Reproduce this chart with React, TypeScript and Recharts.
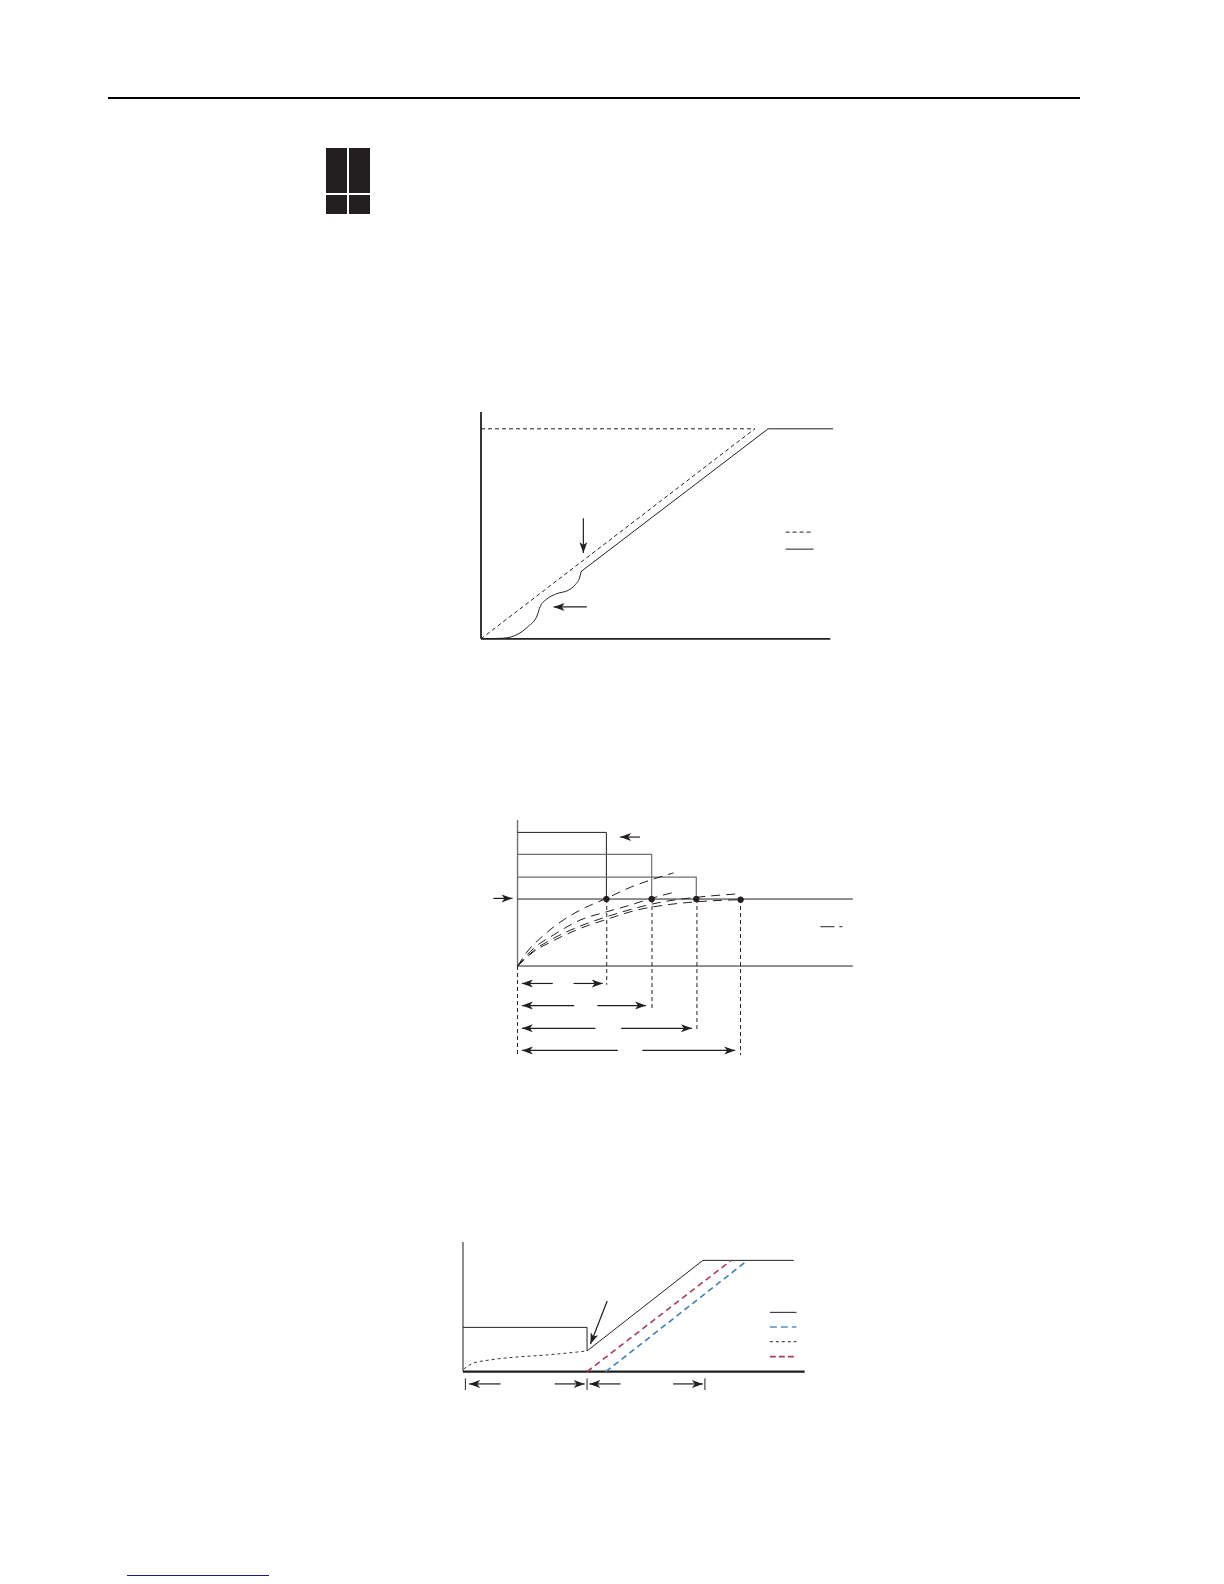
import React from "react";
import { LineChart, Line, XAxis, YAxis, ReferenceLine } from "recharts";

const INK = "#231f20";
const GREY = "#6f6f6f";
const RED = "#a83a62";
const BLUE = "#3f7fb5";
const BLUE_KEY = "#5b92c4";

type Pt = { x: number; y: number };

// ---- top chart: ramp
const rampTarget: Pt[] = [{ x: 0, y: 0 }, { x: 78.4, y: 100 }];
const rampTargetTop: Pt[] = [{ x: 0, y: 100 }, { x: 78.4, y: 100 }];
const rampActualCurve: Pt[] = [
  { x: 0, y: 0 }, { x: 6.5, y: 0.3 }, { x: 10.3, y: 2 }, { x: 13.6, y: 6 }, { x: 16, y: 10.8 },
  { x: 17, y: 15.5 }, { x: 18.9, y: 19 }, { x: 21.7, y: 21.5 }, { x: 25, y: 23.1 }, { x: 27, y: 25.8 },
  { x: 28.2, y: 29 }, { x: 28.7, y: 32.1 },
];
const rampActualLine: Pt[] = [{ x: 28.7, y: 32.1 }, { x: 82.2, y: 100 }, { x: 100.8, y: 100 }];
const rampArrowDown: Pt[] = [{ x: 29.3, y: 57.4 }, { x: 29.3, y: 40.8 }];
const rampArrowLeft: Pt[] = [{ x: 30.3, y: 15.2 }, { x: 20.8, y: 15.2 }];
const rampKeyDash: Pt[] = [{ x: 87.2, y: 50.8 }, { x: 95.2, y: 50.8 }];
const rampKeySolid: Pt[] = [{ x: 87.2, y: 42.7 }, { x: 95.2, y: 42.7 }];

// ---- middle chart: steps
const stepA: Pt[] = [{ x: 0, y: 199.5 }, { x: 26.5, y: 199.5 }, { x: 26.5, y: 100 }];
const stepB: Pt[] = [{ x: 0, y: 166.7 }, { x: 40, y: 166.7 }, { x: 40, y: 100 }];
const stepC: Pt[] = [{ x: 0, y: 132.8 }, { x: 53.3, y: 132.8 }, { x: 53.3, y: 100 }];
const curveA: Pt[] = [
  { x: 0, y: 0 }, { x: 3.3, y: 23.9 }, { x: 7.3, y: 43.8 }, { x: 12.2, y: 63.7 }, { x: 18.7, y: 83.6 },
  { x: 26.5, y: 101 }, { x: 33.6, y: 117.4 }, { x: 40, y: 129 }, { x: 46.5, y: 139 },
];
const curveB: Pt[] = [
  { x: 0, y: 0 }, { x: 4.8, y: 26.4 }, { x: 10.7, y: 46.3 }, { x: 18.7, y: 68.7 }, { x: 26.6, y: 81 },
  { x: 33.6, y: 91 }, { x: 39.9, y: 101 }, { x: 46.5, y: 110 },
];
const curveC: Pt[] = [
  { x: 0, y: 0 }, { x: 4.8, y: 22.9 }, { x: 10.7, y: 41.3 }, { x: 18.7, y: 59.7 }, { x: 26.6, y: 73.6 },
  { x: 35.6, y: 87 }, { x: 43.5, y: 96 }, { x: 53.2, y: 102.5 }, { x: 66.5, y: 108 },
];
const curveD: Pt[] = [
  { x: 0, y: 0 }, { x: 4.8, y: 21.4 }, { x: 10.7, y: 37.8 }, { x: 18.7, y: 56.2 }, { x: 26.6, y: 69.7 },
  { x: 35.6, y: 83.6 }, { x: 45.5, y: 92 }, { x: 53.5, y: 96 }, { x: 66.5, y: 99 },
];
const setPoint: Pt[] = [{ x: 0, y: 100 }, { x: 100, y: 100 }];
const stepBase: Pt[] = [{ x: 0, y: 0 }, { x: 100, y: 0 }];
const reached: Pt[] = [{ x: 26.5, y: 100 }, { x: 40, y: 100 }, { x: 53.3, y: 100 }, { x: 66.5, y: 99 }];
const dropLines: Pt[][] = [
  [{ x: 0, y: 0 }, { x: 0, y: -133 }],
  [{ x: 26.6, y: 100 }, { x: 26.6, y: -28 }],
  [{ x: 40.1, y: 100 }, { x: 40.1, y: -67 }],
  [{ x: 53.5, y: 100 }, { x: 53.5, y: -98 }],
  [{ x: 66.5, y: 100 }, { x: 66.5, y: -133 }],
];
const stepArrows: Pt[][] = [
  [{ x: -7.2, y: 101 }, { x: -1.5, y: 101 }],
  [{ x: 36.5, y: 192.5 }, { x: 30.6, y: 192.5 }],
  [{ x: 10.5, y: -26 }, { x: 1.3, y: -26 }],
  [{ x: 16.7, y: -26 }, { x: 25.4, y: -26 }],
  [{ x: 16.9, y: -59 }, { x: 1.3, y: -59 }],
  [{ x: 23.8, y: -59 }, { x: 38.3, y: -59 }],
  [{ x: 23.2, y: -93 }, { x: 1.3, y: -93 }],
  [{ x: 30.9, y: -93 }, { x: 52, y: -93 }],
  [{ x: 29.9, y: -126 }, { x: 1.3, y: -126 }],
  [{ x: 37.2, y: -126 }, { x: 64.9, y: -126 }],
];
const stepKey: Pt[] = [{ x: 90.3, y: 58.7 }, { x: 97, y: 58.7 }];

// ---- bottom chart: hold then ramp
const holdSolid: Pt[] = [
  { x: 0, y: 39.8 }, { x: 36.3, y: 39.8 }, { x: 36.3, y: 18.6 }, { x: 70.2, y: 100 }, { x: 96.8, y: 100 },
];
const holdCurve: Pt[] = [
  { x: 0.2, y: 2.4 }, { x: 2.9, y: 7.5 }, { x: 7.8, y: 10.5 }, { x: 14.6, y: 12.9 }, { x: 24.4, y: 15 }, { x: 36.3, y: 18.6 },
];
const holdRed: Pt[] = [{ x: 36.3, y: 0 }, { x: 78.5, y: 100 }];
const holdBlue: Pt[] = [{ x: 41.8, y: 0 }, { x: 82.4, y: 97.9 }];
const holdKeys: Pt[][] = [
  [{ x: 89.8, y: 53.3 }, { x: 97.6, y: 53.3 }],
  [{ x: 89.8, y: 40.1 }, { x: 97.6, y: 40.1 }],
  [{ x: 89.8, y: 26.9 }, { x: 97.6, y: 26.9 }],
  [{ x: 89.8, y: 13.5 }, { x: 97.6, y: 13.5 }],
];
const holdTicks: Pt[][] = [
  [{ x: 0.7, y: -6 }, { x: 0.7, y: -16.5 }],
  [{ x: 36.3, y: -6 }, { x: 36.3, y: -16.5 }],
  [{ x: 70.8, y: -6 }, { x: 70.8, y: -16.5 }],
];
const holdArrows: Pt[][] = [
  [{ x: 42.2, y: 63.5 }, { x: 37.3, y: 24.9 }],
  [{ x: 11, y: -11 }, { x: 1.8, y: -11 }],
  [{ x: 26.8, y: -11 }, { x: 35.6, y: -11 }],
  [{ x: 46.1, y: -11 }, { x: 37, y: -11 }],
  [{ x: 61.5, y: -11 }, { x: 70.2, y: -11 }],
];

// barbed head on the last point of a two point line
function arrowHead(props: any) {
  const { cx, cy, index, points } = props;
  if (index !== 1 || !points) return <g key={index} />;
  const a = (Math.atan2(cy - points[0].y, cx - points[0].x) * 180) / Math.PI;
  return (
    <path
      key={index}
      d="M0 0 L-11 -4 L-8 0 L-11 4 Z"
      fill={INK}
      transform={`translate(${cx} ${cy}) rotate(${a})`}
    />
  );
}

function plain(data: Pt[], key: string, color = INK, width = 1, dash?: string, curve: any = "linear") {
  return (
    <Line
      key={key}
      data={data}
      dataKey="y"
      type={curve}
      stroke={color}
      strokeWidth={width}
      strokeDasharray={dash}
      dot={false}
      activeDot={false}
      isAnimationActive={false}
    />
  );
}

function arrow(data: Pt[], key: string) {
  return (
    <Line
      key={key}
      data={data}
      dataKey="y"
      type="linear"
      stroke={INK}
      strokeWidth={1.2}
      dot={arrowHead}
      activeDot={false}
      isAnimationActive={false}
    />
  );
}

const M = { top: 10, right: 10, bottom: 10, left: 10 };

function Box({ left, top, width, height, children }: any) {
  return (
    <div style={{ position: "absolute", left: left - 10, top: top - 10 }}>
      <LineChart width={width + 20} height={height + 20} margin={M}>
        {children}
      </LineChart>
    </div>
  );
}

export default function App() {
  return (
    <div style={{ position: "absolute", left: 0, top: 0, width: 1224, height: 1584, background: "#fff", overflow: "hidden" }}>
      {/* page furniture */}
      <div style={{ position: "absolute", left: 108, top: 97, width: 972, height: 2, background: "#000" }} />
      <div style={{ position: "absolute", left: 326, top: 148, width: 21, height: 45, background: INK }} />
      <div style={{ position: "absolute", left: 349, top: 148, width: 21, height: 45, background: INK }} />
      <div style={{ position: "absolute", left: 326, top: 195, width: 21, height: 19, background: INK }} />
      <div style={{ position: "absolute", left: 349, top: 195, width: 21, height: 19, background: INK }} />
      <div style={{ position: "absolute", left: 127, top: 1575, width: 142, height: 1, background: "#1a1a8c" }} />

      {/* ramp */}
      <Box left={480.7} top={412.2} width={352.8} height={226.8}>
        <XAxis type="number" dataKey="x" domain={[0, 101]} hide />
        <YAxis type="number" domain={[0, 108]} hide />
        <ReferenceLine segment={[{ x: 0, y: 0 }, { x: 0, y: 108 }]} stroke={INK} strokeWidth={1.8} />
        <ReferenceLine segment={[{ x: 0, y: 0 }, { x: 100, y: 0 }]} stroke={INK} strokeWidth={1.8} />
        {plain(rampTargetTop, "targetTop", INK, 1, "4 3")}
        {plain(rampTarget, "target", INK, 1, "4 3")}
        {plain(rampActualCurve, "actualCurve", INK, 1, undefined, "monotone")}
        {plain(rampActualLine, "actualLine")}
        {arrow(rampArrowDown, "down")}
        {arrow(rampArrowLeft, "left")}
        {plain(rampKeyDash, "keyDash", INK, 1, "4 3")}
        {plain(rampKeySolid, "keySolid")}
      </Box>

      {/* steps */}
      <Box left={483.8} top={819.9} width={368.9} height={235.8}>
        <XAxis type="number" dataKey="x" domain={[-10, 100]} hide />
        <YAxis type="number" domain={[-134, 218]} hide />
        <ReferenceLine segment={[{ x: 0, y: 0 }, { x: 0, y: 218 }]} stroke={GREY} strokeWidth={1.4} />
        {plain(stepBase, "base")}
        {plain(stepA, "stepA")}
        {plain(stepB, "stepB", GREY, 1.2)}
        {plain(stepC, "stepC", GREY, 1.2)}
        {plain(setPoint, "setPoint")}
        {plain(curveA, "curveA", INK, 1, "9 6", "monotone")}
        {plain(curveB, "curveB", INK, 1, "9 6", "monotone")}
        {plain(curveC, "curveC", INK, 1, "9 6", "monotone")}
        {plain(curveD, "curveD", INK, 1, "9 6", "monotone")}
        {dropLines.map((d, i) => plain(d, "drop" + i, INK, 1, "4 3"))}
        {stepArrows.map((d, i) => arrow(d, "arrow" + i))}
        {plain(stepKey, "key", INK, 1, "14 5 3 1")}
        <Line
          data={reached}
          dataKey="y"
          stroke="none"
          dot={{ r: 2.8, fill: INK, stroke: INK }}
          activeDot={false}
          isAnimationActive={false}
        />
      </Box>

      {/* hold then ramp */}
      <Box left={463.3} top={1242} width={341.7} height={148.6}>
        <XAxis type="number" dataKey="x" domain={[0, 100]} hide />
        <YAxis type="number" domain={[-17, 116.5]} hide />
        <ReferenceLine y={0} stroke={INK} strokeWidth={2.2} />
        <ReferenceLine segment={[{ x: 0, y: 0 }, { x: 0, y: 116.5 }]} stroke={INK} strokeWidth={1} />
        {plain(holdSolid, "solid")}
        {plain(holdCurve, "curve", INK, 0.9, "3 3", "monotone")}
        {plain(holdRed, "red", RED, 1.6, "6 4")}
        {plain(holdBlue, "blue", BLUE, 1.6, "6 4")}
        {plain(holdKeys[0], "k0")}
        {plain(holdKeys[1], "k1", BLUE_KEY, 1.6, "7 4")}
        {plain(holdKeys[2], "k2", INK, 1, "3 3")}
        {plain(holdKeys[3], "k3", RED, 1.6, "6 3")}
        {holdTicks.map((d, i) => plain(d, "tick" + i))}
        {holdArrows.map((d, i) => arrow(d, "ha" + i))}
      </Box>
    </div>
  );
}
